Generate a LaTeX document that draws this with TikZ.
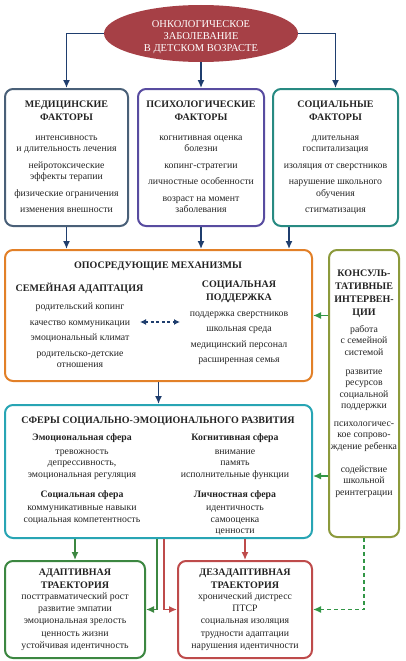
\documentclass[tikz,border=0pt]{standalone}
\usepackage{fontspec}
\setmainfont{Liberation Serif}
\usetikzlibrary{arrows.meta,shapes.geometric}
\definecolor{navy}{RGB}{31,62,110}
\definecolor{ink}{RGB}{35,35,35}
\definecolor{ill}{RGB}{166,64,70}
\definecolor{med}{RGB}{74,96,120}
\definecolor{psy}{RGB}{88,76,160}
\definecolor{soc}{RGB}{40,138,130}
\definecolor{mech}{RGB}{226,128,40}
\definecolor{cons}{RGB}{140,154,60}
\definecolor{sph}{RGB}{40,165,180}
\definecolor{adp}{RGB}{60,135,65}
\definecolor{dis}{RGB}{190,75,75}
\definecolor{grn}{RGB}{50,150,70}
\begin{document}
\begin{tikzpicture}[x=1pt,y=1pt,yscale=-1,xscale=1,
	box/.style={draw,line width=2pt,rounded corners=8pt,inner sep=0pt,minimum height=#1},
	head/.style={font=\bfseries\fontsize{10}{13}\selectfont,align=center,anchor=north,inner sep=0pt,text=ink},
	items/.style={font=\fontsize{9.8}{11.5}\selectfont,align=center,anchor=north,inner sep=0pt,text=ink},
	arr/.style={line width=1.4pt,-{Latex[length=8pt,width=7pt]}}]
	\useasboundingbox (0,0) rectangle (405,661);
	\node [ellipse,fill=ill,minimum width=194,minimum height=57,inner sep=0pt] (ill) at (201,33.5) {};
	\node [text=white,align=center,anchor=north,inner sep=0pt,font=\fontsize{10.5}{12}\selectfont] (illtext) at (201,19) {\strut ОНКОЛОГИЧЕСКОЕ\\ЗАБОЛЕВАНИЕ\\В ДЕТСКОМ ВОЗРАСТЕ};

	\node [box=137,draw=med,minimum width=123] (med) at (66.5,157.5) {};
	\node [box=137,draw=psy,minimum width=126] (psy) at (201,157.5) {};
	\node [box=137,draw=soc,minimum width=125] (soc) at (335.5,157.5) {};
	\node [box=131,draw=mech,minimum width=307] (mech) at (158.5,315.5) {};
	\node [box=287,draw=cons,minimum width=70] (cons) at (364,393.5) {};
	\node [box=133,draw=sph,minimum width=307] (sph) at (158.5,471.5) {};
	\node [box=97,draw=adp,minimum width=140] (adp) at (75,609.5) {};
	\node [box=97,draw=dis,minimum width=134] (dis) at (245,609.5) {};

	\node [head] (medhead) at (66.5,98.4) {\strut МЕДИЦИНСКИЕ\\ФАКТОРЫ};
	\node [items] (medlist) at (66.5,132) {\strut интенсивность\\и длительность лечения\\[5pt]нейротоксические\\эффекты терапии\\[5pt]физические ограничения\\[5pt]изменения внешности};
	\node [head] (psyhead) at (201,98.4) {\strut ПСИХОЛОГИЧЕСКИЕ\\ФАКТОРЫ};
	\node [items] (psylist) at (201,132) {\strut когнитивная оценка\\болезни\\[5pt]копинг-стратегии\\[5pt]личностные особенности\\[5pt]возраст на момент\\заболевания};
	\node [head] (sochead) at (335.5,98.4) {\strut СОЦИАЛЬНЫЕ\\ФАКТОРЫ};
	\node [items] (soclist) at (335.5,132) {\strut длительная\\госпитализация\\[5pt]изоляция от сверстников\\[5pt]нарушение школьного\\обучения\\[5pt]стигматизация};

	\node [head] (mechhead) at (158,259.4) {\strut ОПОСРЕДУЮЩИЕ МЕХАНИЗМЫ};
	\node [head] (famhead) at (79.5,282.4) {\strut СЕМЕЙНАЯ АДАПТАЦИЯ};
	\node [items] (famlist) at (80,301.5) {\strut родительский копинг\\[4pt]качество коммуникации\\[4pt]эмоциональный климат\\[4pt]родительско-детские\\отношения};
	\node [head] (suphead) at (239,278.4) {\strut СОЦИАЛЬНАЯ\\ПОДДЕРЖКА};
	\node [items] (suplist) at (239,308) {\strut поддержка сверстников\\[4pt]школьная среда\\[4pt]медицинский персонал\\[4pt]расширенная семья};

	\node [head] (conshead) at (364,267.4) {\strut КОНСУЛЬ-\\ТАТИВНЫЕ\\ИНТЕРВЕН-\\ЦИИ};
	\node [items] (conslist) at (364,324) {\strut работа\\с семейной\\системой\\[7.5pt]развитие\\ресурсов\\социальной\\поддержки\\[6pt]психологичес-\\кое сопрово-\\ждение ребенка\\[11.5pt]содействие\\школьной\\реинтеграции};

	\node [head] (sphhead) at (158,414.4) {\strut СФЕРЫ СОЦИАЛЬНО-ЭМОЦИОНАЛЬНОГО РАЗВИТИЯ};
	\node [items] (emo) at (82,432) {\strut\textbf{Эмоциональная сфера}\\[2.5pt]тревожность\\депрессивность,\\эмоциональная регуляция};
	\node [items] (cog) at (235,432) {\strut\textbf{Когнитивная сфера}\\[2.5pt]внимание\\память\\исполнительные функции};
	\node [items] (socsph) at (82,489.5) {\strut\textbf{Социальная сфера}\\[1.5pt]коммуникативные навыки\\социальная компетентность};
	\node [items] (pers) at (235,489.5) {\strut\textbf{Личностная сфера}\\[1.5pt]идентичность\\самооценка\\ценности};

	\node [head] (adphead) at (75,565.9) {\strut АДАПТИВНАЯ\\ТРАЕКТОРИЯ};
	\node [items,font=\fontsize{9.8}{12.3}\selectfont] (adplist) at (75,590.4) {\strut посттравматический рост\\развитие эмпатии\\эмоциональная зрелость\\ценность жизни\\устойчивая идентичность};
	\node [head] (dishead) at (245,565.9) {\strut ДЕЗАДАПТИВНАЯ\\ТРАЕКТОРИЯ};
	\node [items,font=\fontsize{9.8}{12.3}\selectfont] (dislist) at (245,590.4) {\strut хронический дистресс\\ПТСР\\социальная изоляция\\трудности адаптации\\нарушения идентичности};

	\draw [arr,navy] (ill.west) -| (med.north);
	\draw [arr,navy] (ill.south) -- (ill.south |- psy.north);
	\draw [arr,navy] (ill.east) -| (soc.north);
	\draw [arr,navy] (med.south) -- (med.south |- mech.north);
	\draw [arr,navy] (psy.south) -- (psy.south |- mech.north);
	\coordinate (socout) at ([xshift=-46.5]soc.south);
	\draw [arr,navy] (socout) -- (socout |- mech.north);
	\draw [arr,navy] (mech.south) -- (sph.north);
	\coordinate (famend) at (140,322);
	\coordinate (supend) at (180,322);
	\draw [navy,line width=1.2pt,dash pattern=on 3pt off 2.5pt,{Latex[length=6pt,width=6pt]}-{Latex[length=6pt,width=6pt]}] (famend) -- (supend);
	\draw [arr,grn] (mech.east -| cons.west) -- (mech.east);
	\coordinate (sphin) at ([yshift=4.5]sph.east);
	\draw [arr,grn] (sphin -| cons.west) -- (sphin);
	\draw [arr,adp] (sph.south -| adp.north) -- (adp.north);
	\draw [arr,dis] (sph.south -| dis.north) -- (dis.north);
	\coordinate (gout) at ([xshift=-1.5]sph.south);
	\coordinate (rout) at ([xshift=5.5]sph.south);
	\draw [arr,adp] (gout) |- (adp.east);
	\draw [arr,dis] (rout) |- (dis.west);
	\draw [arr,grn,dash pattern=on 4pt off 3pt] (cons.south) |- (dis.east);
\end{tikzpicture}
\end{document}
